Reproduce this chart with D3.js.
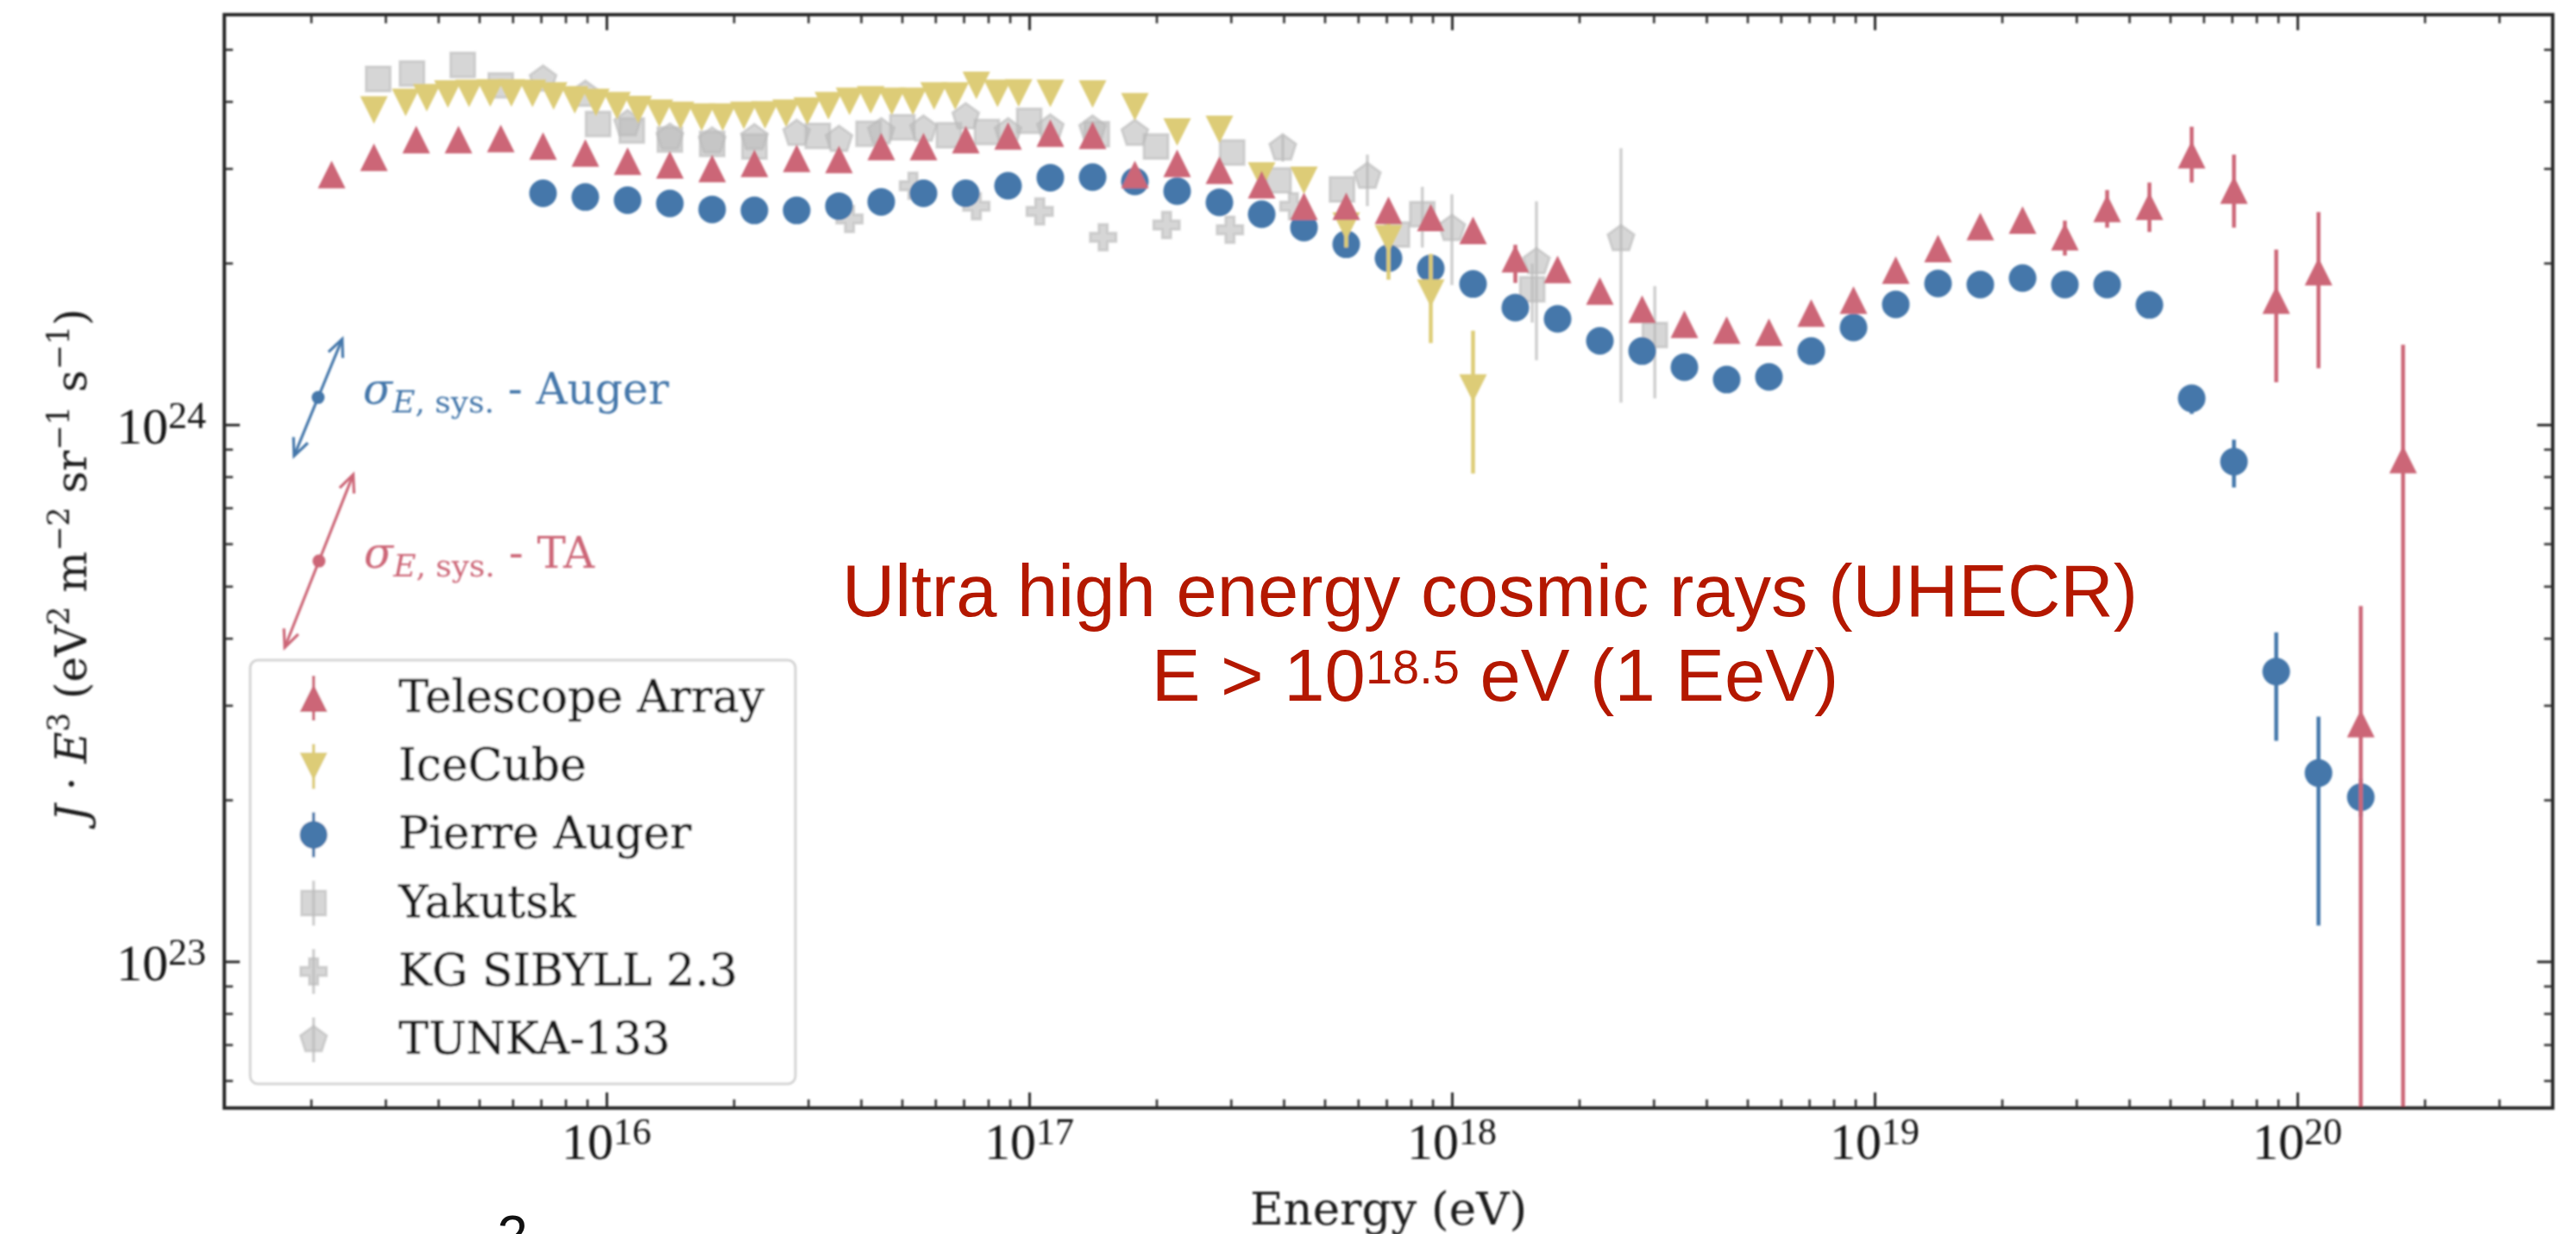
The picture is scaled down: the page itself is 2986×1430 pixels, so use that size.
<!DOCTYPE html>
<html>
<head>
<meta charset="utf-8">
<script src="https://cdn.jsdelivr.net/npm/d3@7"></script>
<style>
  html, body { margin: 0; padding: 0; background: #ffffff; }
  svg { display: block; }
</style>
</head>
<body>
<svg id="chart" width="2986" height="1430"></svg>
<script>
// ---------------------------------------------------------------
// Cosmic-ray energy spectrum, J·E³ versus energy.
// Values are lg(E / eV) and lg(J·E³ / eV² m⁻² sr⁻¹ s⁻¹).
// ---------------------------------------------------------------

// Telescope Array
const taLgE = [15.35, 15.45, 15.55, 15.65, 15.75, 15.85, 15.95, 16.05, 16.15, 16.25,
               16.35, 16.45, 16.55, 16.65, 16.75, 16.85, 16.95, 17.05, 17.15, 17.25,
               17.35, 17.45, 17.55, 17.65, 17.75, 17.85, 17.95, 18.05, 18.15, 18.25,
               18.35, 18.45, 18.55, 18.65, 18.75, 18.85, 18.95, 19.05, 19.15, 19.25,
               19.35, 19.45, 19.55, 19.65, 19.75, 19.85, 19.95, 20.05, 20.15, 20.25];
const taLgF = [24.466, 24.498, 24.531, 24.531, 24.533, 24.519, 24.506, 24.491, 24.484, 24.477,
               24.487, 24.496, 24.494, 24.518, 24.518, 24.531, 24.538, 24.543, 24.539, 24.466,
               24.487, 24.474, 24.447, 24.407, 24.407, 24.399, 24.386, 24.362, 24.309, 24.289,
               24.249, 24.215, 24.187, 24.176, 24.172, 24.208, 24.232, 24.288, 24.328, 24.369,
               24.381, 24.350, 24.403, 24.407, 24.503, 24.437, 24.232, 24.285, 23.443, 23.935];
const taErrLgE = [18.15, 19.45, 19.55, 19.65, 19.75, 19.85, 19.95, 20.05, 20.15, 20.25];
const taErrLo  = [24.264, 24.315, 24.367, 24.359, 24.451, 24.367, 24.079, 24.105, 22.0, 22.0];
const taErrHi  = [24.335, 24.380, 24.437, 24.451, 24.555, 24.503, 24.326, 24.396, 23.662, 24.149];

// IceCube
const icLgE = [15.45, 15.525, 15.575, 15.625, 15.675, 15.725, 15.775, 15.825, 15.875, 15.925,
               15.975, 16.025, 16.075, 16.125, 16.175, 16.225, 16.275, 16.325, 16.375, 16.425,
               16.475, 16.525, 16.575, 16.625, 16.675, 16.725, 16.775, 16.825, 16.875, 16.925,
               16.975, 17.05, 17.15, 17.25, 17.35, 17.45, 17.55, 17.65, 17.75, 17.85,
               17.95, 18.05];
const icLgF = [24.586, 24.600, 24.609, 24.616, 24.617, 24.618, 24.618, 24.617, 24.612, 24.605,
               24.600, 24.594, 24.587, 24.580, 24.576, 24.573, 24.573, 24.576, 24.577, 24.580,
               24.584, 24.594, 24.602, 24.605, 24.602, 24.602, 24.612, 24.612, 24.632, 24.617,
               24.618, 24.617, 24.616, 24.592, 24.545, 24.550, 24.463, 24.455, 24.370, 24.346,
               24.245, 24.068];
const icErrLgE = [17.75, 17.85, 17.95, 18.05];
const icErrLo  = [24.330, 24.270, 24.152, 23.909];
const icErrHi  = [24.390, 24.380, 24.318, 24.175];

// Pierre Auger
const paLgE = [15.85, 15.95, 16.05, 16.15, 16.25, 16.35, 16.45, 16.55, 16.65, 16.75,
               16.85, 16.95, 17.05, 17.15, 17.25, 17.35, 17.45, 17.55, 17.65, 17.75,
               17.85, 17.95, 18.05, 18.15, 18.25, 18.35, 18.45, 18.55, 18.65, 18.75,
               18.85, 18.95, 19.05, 19.15, 19.25, 19.35, 19.45, 19.55, 19.65, 19.75,
               19.85, 19.95, 20.05, 20.15];
const paLgF = [24.431, 24.424, 24.418, 24.412, 24.401, 24.399, 24.399, 24.407, 24.415, 24.431,
               24.431, 24.445, 24.460, 24.461, 24.453, 24.435, 24.414, 24.392, 24.367, 24.336,
               24.310, 24.291, 24.262, 24.218, 24.197, 24.156, 24.137, 24.107, 24.084, 24.089,
               24.137, 24.181, 24.224, 24.263, 24.261, 24.273, 24.261, 24.261, 24.223, 24.049,
               23.931, 23.540, 23.351, 23.306];
const paErrLgE = [19.75, 19.85, 19.95, 20.05, 20.15];
const paErrLo  = [24.020, 23.883, 23.411, 23.067, 23.270];
const paErrHi  = [24.070, 23.972, 23.613, 23.456, 23.340];

// Yakutsk
const ykLgE = [15.46, 15.54, 15.66, 15.75, 15.98, 16.06, 16.15, 16.25, 16.35, 16.50,
               16.62, 16.70, 16.81, 16.90, 17.00, 17.16, 17.30, 17.48, 17.59, 17.74,
               17.87, 17.93, 18.19, 18.48];
const ykLgF = [24.644, 24.654, 24.670, 24.632, 24.560, 24.548, 24.531, 24.523, 24.518, 24.538,
               24.542, 24.554, 24.539, 24.545, 24.566, 24.541, 24.518, 24.507, 24.455, 24.438,
               24.354, 24.392, 24.252, 24.167];
const ykErrLgE = [17.93, 18.19, 18.48];
const ykErrLo  = [24.330, 24.190, 24.049];
const ykErrHi  = [24.443, 24.300, 24.258];

// KG SIBYLL 2.3
const kgLgE = [16.575, 16.725, 16.875, 17.025, 17.175, 17.325, 17.475, 17.625];
const kgLgF = [24.383, 24.445, 24.407, 24.397, 24.349, 24.372, 24.363, 24.407];

// TUNKA-133
const tkLgE = [15.85, 15.95, 16.05, 16.15, 16.25, 16.35, 16.45, 16.55, 16.65, 16.75,
               16.85, 16.95, 17.05, 17.15, 17.25, 17.60, 17.80, 18.00, 18.20, 18.40];
const tkLgF = [24.643, 24.615, 24.560, 24.535, 24.528, 24.534, 24.542, 24.531, 24.545, 24.550,
               24.573, 24.545, 24.552, 24.550, 24.542, 24.515, 24.462, 24.365, 24.303, 24.346];
const tkErrLgE = [17.60, 17.80, 18.00, 18.20, 18.40];
const tkErrLo  = [24.490, 24.407, 24.260, 24.120, 24.041];
const tkErrHi  = [24.540, 24.503, 24.429, 24.416, 24.515];

// Energy-scale systematics (Auger, TA): reference point and ±1σ shift
const sysNames = ["Auger", "TA"];
const sysLgE   = [15.318, 15.320];
const sysLgF   = [24.0506, 23.746];
const sysDLgE  = [0.057, 0.081];
const sysDLgF  = [0.109, 0.161];

// Axis ranges (lg) and tick decades
const xLgRange = [15.096, 20.604];
const yLgRange = [22.727, 24.7637];
const xDecades = [16, 17, 18, 19, 20];
const yDecades = [23, 24];

// ---------------------------------------------------------------
const W = 2986, H = 1430;
const P = { left: 260, right: 2959, top: 17, bottom: 1284 };

const COL = { ta: "#CC6677", ic: "#DDCC77", pa: "#4477AA", grey: "#BBBBBB", axis: "#2a2a2a", text: "#1c1c1c" };
const SERIF = "'DejaVu Serif', serif";
const NUMF = "'Liberation Serif', 'Times New Roman', serif";
const SANS = "'Liberation Sans', Arial, Helvetica, sans-serif";

const x = d3.scaleLog().domain(xLgRange.map(v => 10 ** v)).range([P.left, P.right]);
const y = d3.scaleLog().domain(yLgRange.map(v => 10 ** v)).range([P.bottom, P.top]);
const X = lg => x(10 ** lg);
const Y = lg => y(10 ** lg);

const svg = d3.select("#chart");
const defs = svg.append("defs");
defs.append("clipPath").attr("id", "plotClip")
  .append("rect").attr("x", P.left).attr("y", P.top)
  .attr("width", P.right - P.left).attr("height", P.bottom - P.top);
const soft = defs.append("filter").attr("id", "soft")
  .attr("x", "-2%").attr("y", "-2%").attr("width", "104%").attr("height", "104%");
soft.append("feGaussianBlur").attr("stdDeviation", 1.2);

svg.append("rect").attr("width", W).attr("height", H).attr("fill", "#ffffff");
const chart = svg.append("g").attr("filter", "url(#soft)");

// marker outlines centred on the data point
const shapes = {
  triUp:   s => `M0,${-s}L${s},${s}L${-s},${s}Z`,
  triDown: s => `M0,${s}L${s},${-s}L${-s},${-s}Z`,
  circle:  s => `M${-s},0A${s},${s} 0 1,0 ${s},0A${s},${s} 0 1,0 ${-s},0Z`,
  square:  s => `M${-s},${-s}H${s}V${s}H${-s}Z`,
  plus:    s => { const t = s / 3; return `M${-t},${-s}H${t}V${-t}H${s}V${t}H${t}V${s}H${-t}V${t}H${-s}V${-t}H${-t}Z`; },
  pentagon: s => {
    const pts = d3.range(5).map(k => { const a = (-90 + 72 * k) * Math.PI / 180; return [s * Math.cos(a), s * Math.sin(a)]; });
    return "M" + pts.map(p => p[0].toFixed(2) + "," + p[1].toFixed(2)).join("L") + "Z";
  }
};

const series = [
  { key: "yk", name: "Yakutsk",           E: ykLgE, F: ykLgF, eE: ykErrLgE, eLo: ykErrLo, eHi: ykErrHi, shape: "square",   size: 14, color: COL.grey, grey: true },
  { key: "kg", name: "KG SIBYLL 2.3",     E: kgLgE, F: kgLgF, eE: [], eLo: [], eHi: [],                shape: "plus",     size: 15, color: COL.grey, grey: true },
  { key: "tk", name: "TUNKA-133",         E: tkLgE, F: tkLgF, eE: tkErrLgE, eLo: tkErrLo, eHi: tkErrHi, shape: "pentagon", size: 16, color: COL.grey, grey: true },
  { key: "pa", name: "Pierre Auger",      E: paLgE, F: paLgF, eE: paErrLgE, eLo: paErrLo, eHi: paErrHi, shape: "circle",   size: 16, color: COL.pa },
  { key: "ic", name: "IceCube",           E: icLgE, F: icLgF, eE: icErrLgE, eLo: icErrLo, eHi: icErrHi, shape: "triDown",  size: 16, color: COL.ic },
  { key: "ta", name: "Telescope Array",   E: taLgE, F: taLgF, eE: taErrLgE, eLo: taErrLo, eHi: taErrHi, shape: "triUp",    size: 16, color: COL.ta }
];

function styleMarker(sel, s) {
  if (s.grey) {
    sel.attr("fill", s.color).attr("fill-opacity", 0.6)
       .attr("stroke", s.color).attr("stroke-opacity", 0.6).attr("stroke-width", 3);
  } else {
    sel.attr("fill", s.color).attr("stroke", "none");
  }
}

// ---- data -----------------------------------------------------
const dataG = chart.append("g").attr("clip-path", "url(#plotClip)");
series.forEach(s => {
  const g = dataG.append("g").attr("class", "series-" + s.key);
  const errs = s.eE.map((e, i) => ({ e, lo: s.eLo[i], hi: s.eHi[i] }));
  g.selectAll("line.err").data(errs).join("line").attr("class", "err")
    .attr("x1", d => X(d.e)).attr("x2", d => X(d.e))
    .attr("y1", d => Y(d.lo)).attr("y2", d => Y(d.hi))
    .attr("stroke", s.color).attr("stroke-width", s.grey ? 3.5 : 4.5)
    .attr("stroke-opacity", s.grey ? 0.7 : 1);
  const pts = s.E.map((e, i) => ({ e, f: s.F[i] }));
  g.selectAll("path.mk").data(pts).join("path").attr("class", "mk")
    .attr("transform", d => `translate(${X(d.e)},${Y(d.f)})`)
    .attr("d", shapes[s.shape](s.size))
    .call(styleMarker, s);
});

// ---- axes (ticks inside, on all four sides) --------------------
const isDecade = v => Math.abs(Math.log10(v) - Math.round(Math.log10(v))) < 1e-9;
const xMajor = xDecades.map(d => 10 ** d);
const yMajor = yDecades.map(d => 10 ** d);
const xMinor = x.ticks().filter(v => !isDecade(v));
const yMinor = y.ticks().filter(v => !isDecade(v));

const axisG = chart.append("g").attr("class", "axes");
function addAxis(gen, scale, vals, len, tx, ty) {
  const g = axisG.append("g").attr("transform", `translate(${tx},${ty})`)
    .call(gen(scale).tickValues(vals).tickSize(-len).tickFormat(""));
  g.select(".domain").remove();
  g.selectAll(".tick line").attr("stroke", COL.axis).attr("stroke-width", Math.abs(len) > 12 ? 3 : 2.5);
}
[[xMajor, 18], [xMinor, 10]].forEach(([v, l]) => {
  addAxis(d3.axisBottom, x, v, l, 0, P.bottom);
  addAxis(d3.axisTop, x, v, l, 0, P.top);
});
[[yMajor, 18], [yMinor, 10]].forEach(([v, l]) => {
  addAxis(d3.axisLeft, y, v, l, P.left, 0);
  addAxis(d3.axisRight, y, v, l, P.right, 0);
});

axisG.append("rect")
  .attr("x", P.left).attr("y", P.top)
  .attr("width", P.right - P.left).attr("height", P.bottom - P.top)
  .attr("fill", "none").attr("stroke", COL.axis).attr("stroke-width", 4);

// tick labels: 10^n
const labG = chart.append("g").attr("fill", "#161616").attr("font-family", NUMF);
xDecades.forEach(d => {
  const t = labG.append("text").attr("x", X(d)).attr("y", P.bottom + 59)
    .attr("text-anchor", "middle").attr("font-size", 60);
  t.append("tspan").text("10");
  t.append("tspan").attr("font-size", 44).attr("dy", -17).text(d);
});
yDecades.forEach(d => {
  const t = labG.append("text").attr("x", P.left - 21).attr("y", Y(d) + 22)
    .attr("text-anchor", "end").attr("font-size", 60);
  t.append("tspan").text("10");
  t.append("tspan").attr("font-size", 44).attr("dy", -18).text(d);
});

// axis titles
chart.append("text").attr("x", (P.left + P.right) / 2).attr("y", 1419)
  .attr("text-anchor", "middle").attr("font-family", SERIF).attr("font-size", 53)
  .attr("fill", COL.text).text("Energy (eV)");

const yl = chart.append("text")
  .attr("transform", "translate(100,655) rotate(-90)")
  .attr("text-anchor", "middle").attr("font-family", SERIF).attr("font-size", 50)
  .attr("fill", COL.text);
const ylParts = [
  ["J", "i", 0], [" · ", "n", 0], ["E", "i", 0], ["3", "n", 1],
  [" (eV", "n", 0], ["2", "n", 1], [" m", "n", 0], ["−2", "n", 1],
  [" sr", "n", 0], ["−1", "n", 1], [" s", "n", 0], ["−1", "n", 1], [")", "n", 0]
];
let prevSup = 0;
ylParts.forEach(([txt, st, sup]) => {
  const ts = yl.append("tspan").text(txt);
  if (st === "i") ts.attr("font-style", "italic");
  if (sup) ts.attr("font-size", 35);
  const dy = (sup ? -20 : 0) - (prevSup ? -20 : 0);
  if (dy) ts.attr("dy", dy);
  prevSup = sup;
});

// ---- energy-scale systematics arrows --------------------------
const sysCol = [COL.pa, COL.ta];
const sysG = chart.append("g");
sysNames.forEach((nm, i) => {
  const c = [X(sysLgE[i]), Y(sysLgF[i])];
  const a = [X(sysLgE[i] - sysDLgE[i]), Y(sysLgF[i] - sysDLgF[i])];
  const b = [X(sysLgE[i] + sysDLgE[i]), Y(sysLgF[i] + sysDLgF[i])];
  sysG.append("line").attr("x1", a[0]).attr("y1", a[1]).attr("x2", b[0]).attr("y2", b[1])
    .attr("stroke", sysCol[i]).attr("stroke-width", 3.2);
  // open arrow heads at both ends
  [[a, b], [b, a]].forEach(([tip, from]) => {
    const ang = Math.atan2(tip[1] - from[1], tip[0] - from[0]);
    const L = 22, spread = 0.42;
    const p1 = [tip[0] - L * Math.cos(ang - spread), tip[1] - L * Math.sin(ang - spread)];
    const p2 = [tip[0] - L * Math.cos(ang + spread), tip[1] - L * Math.sin(ang + spread)];
    sysG.append("path").attr("d", `M${p1[0]},${p1[1]}L${tip[0]},${tip[1]}L${p2[0]},${p2[1]}`)
      .attr("fill", "none").attr("stroke", sysCol[i]).attr("stroke-width", 3.2)
      .attr("stroke-linejoin", "miter");
  });
  sysG.append("circle").attr("cx", c[0]).attr("cy", c[1]).attr("r", 7.5).attr("fill", sysCol[i]);
  const t = sysG.append("text").attr("x", c[0] + 52).attr("y", c[1] + 7.5)
    .attr("font-family", SERIF).attr("font-size", 50).attr("fill", sysCol[i]);
  t.append("tspan").attr("font-style", "italic").text("σ");
  t.append("tspan").attr("font-style", "italic").attr("font-size", 36).attr("dy", 10).text("E");
  t.append("tspan").attr("font-size", 36).text(", sys.");
  t.append("tspan").attr("dy", -10).text(" - " + nm);
});

// ---- legend ----------------------------------------------------
const legOrder = ["ta", "ic", "pa", "yk", "kg", "tk"];
const leg = chart.append("g");
leg.append("rect").attr("x", 290).attr("y", 765).attr("width", 632).attr("height", 491)
  .attr("rx", 9).attr("fill", "#ffffff").attr("fill-opacity", 0.8)
  .attr("stroke", "#d4d4d4").attr("stroke-width", 3);
legOrder.forEach((k, i) => {
  const s = series.find(d => d.key === k);
  const cy = 809 + i * 79.2;
  const g = leg.append("g").attr("transform", `translate(363.5,${cy})`);
  g.append("line").attr("y1", -26).attr("y2", 26).attr("stroke", s.color)
    .attr("stroke-width", 3.5).attr("stroke-opacity", s.grey ? 0.7 : 1);
  g.append("path").attr("d", shapes[s.shape](s.size)).call(styleMarker, s);
  leg.append("text").attr("x", 462).attr("y", cy + 16)
    .attr("font-family", SERIF).attr("font-size", 52).attr("fill", COL.text)
    .attr("stroke", COL.text).attr("stroke-width", 0.6).text(s.name);
});

// ---- overlay caption ---------------------------------------------
const cap = svg.append("g").attr("fill", "#b41800").attr("font-family", SANS).attr("text-anchor", "middle");
cap.append("text").attr("x", 1727).attr("y", 714).attr("font-size", 85)
  .text("Ultra high energy cosmic rays (UHECR)");
const l2 = cap.append("text").attr("x", 1733).attr("y", 812).attr("font-size", 85);
l2.append("tspan").text("E > 10");
l2.append("tspan").attr("font-size", 56).attr("dy", -20).text("18.5");
l2.append("tspan").attr("dy", 20).text(" eV (1 EeV)");

// page fragment at the lower edge
svg.append("text").attr("x", 594).attr("y", 1454).attr("text-anchor", "middle")
  .attr("font-family", SANS).attr("font-size", 64).attr("fill", "#111").text("2");
</script>
</body>
</html>
